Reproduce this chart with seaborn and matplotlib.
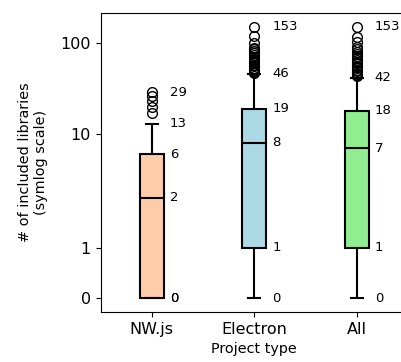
import numpy as np
import pandas as pd
import matplotlib
matplotlib.use("Agg")
import matplotlib.pyplot as plt
import seaborn as sns

categories = ["NW.js", "Electron", "All"]
colors = ["#FFCCAA", "#ADD8E6", "#90EE90"]

nwjs_values = [0, 0, 0, 0, 0, 0, 0, 0, 0, 0, 0,
               0, 1, 1, 1, 1, 1, 2, 2, 2,
               2,
               2, 3, 3, 3, 4, 4, 5, 5, 6,
               6,
               7, 8, 9, 11, 13,
               17, 20, 23, 26, 29]

electron_values = [0, 0, 0, 0, 0, 0, 0, 0, 0, 0, 0, 0,
                   1, 1, 1, 1, 1, 1, 1, 1, 1, 1, 1, 1, 1, 1, 1, 1, 1, 1, 1,
                   1,
                   1, 1, 2, 2, 2, 2, 2, 3, 3, 3, 3, 3, 4, 4, 4, 4, 5, 5, 5, 5,
                   6, 6, 6, 6, 7, 7, 7, 7, 7, 8,
                   8,
                   8, 9, 9, 10, 10, 11, 11, 12, 12, 13, 13, 14, 14, 15, 15,
                   16, 16, 17, 17, 17, 18, 18, 18, 18, 19, 19, 19, 19, 19, 19,
                   19,
                   20, 22, 24, 26, 28, 31, 34, 38, 42, 46,
                   47, 48, 49, 50, 52, 54, 56, 58, 60, 62, 65, 68, 71, 74,
                   78, 82, 86, 90, 102, 120, 153]

all_values = [0, 0, 0, 0, 0, 0, 0, 0, 0, 0, 0, 0,
              1, 1, 1, 1, 1, 1, 1, 1, 1, 1, 1, 1, 1, 1, 1, 1, 1, 1, 1,
              1,
              1, 1, 2, 2, 2, 2, 2, 3, 3, 3, 3, 3, 4, 4, 4, 4, 4, 5, 5, 5,
              5, 5, 6, 6, 6, 6, 6, 7, 7, 7,
              7,
              7, 8, 8, 9, 9, 10, 10, 11, 11, 12, 12, 13, 13, 14, 14, 15,
              15, 16, 16, 17, 17, 17, 17, 18, 18, 18, 18, 18, 18, 18,
              18,
              19, 21, 23, 25, 27, 30, 33, 36, 39, 42,
              44, 45, 46, 47, 49, 51, 53, 55, 57, 60, 63, 66, 69, 73,
              77, 81, 86, 92, 103, 118, 153]

series = [nwjs_values, electron_values, all_values]
df = pd.DataFrame({
    "type": np.concatenate([[c] * len(v) for c, v in zip(categories, series)]),
    "n": np.concatenate([np.asarray(v, dtype=float) for v in series]),
})

fig = plt.figure(figsize=(4.01, 3.62), dpi=100)
ax = fig.add_axes([100.5 / 401, 50 / 362, 307.5 / 401, 299 / 362])

sns.boxplot(data=df, x="type", y="n", hue="type", order=categories,
            hue_order=categories, palette=colors, legend=False, width=0.23,
            linecolor="black", linewidth=1.5, fliersize=7,
            flierprops=dict(marker="o", markerfacecolor="none",
                            markeredgecolor="black", markeredgewidth=1.0),
            medianprops=dict(color="black", linewidth=1.5),
            whiskerprops=dict(color="black", linewidth=1.5),
            capprops=dict(color="black", linewidth=1.5),
            boxprops=dict(edgecolor="black", linewidth=1.5),
            saturation=1, ax=ax)

ax.set_yscale("symlog", linthresh=2)
# y limits: data range with 5% margins in the symlog-transformed space
tr = ax.yaxis.get_transform()
lo, hi = tr.transform([df["n"].min(), df["n"].max()])
pad = 0.05 * (hi - lo)
ymin, ymax = tr.inverted().transform([lo - pad, hi + pad])
ax.set_ylim(ymin, ymax)

ax.set_yticks([0, 1, 10, 100])
ax.set_yticklabels(["0", "1", "10", "100"])
ax.yaxis.set_minor_locator(matplotlib.ticker.NullLocator())
ax.tick_params(axis="both", labelsize=11.5)
ax.set_xlim(-0.5, 2.5)

# annotations of box statistics
for i, vals in enumerate(series):
    v = np.sort(np.asarray(vals, dtype=float))
    q1, med, q3 = np.percentile(v, [25, 50, 75])
    iqr = q3 - q1
    whi = v[v <= q3 + 1.5 * iqr].max()
    stats = [v.min(), q1, med, q3, whi, v.max()]
    for s in stats:
        ax.text(i + 0.175, s, f"{int(round(s))}", ha="left", va="center",
                fontsize=9.5)

ax.set_xlabel("Project type", fontsize=10.4)
ax.set_ylabel("# of included libraries\n(symlog scale)", fontsize=10.4,
              labelpad=9)

fig.savefig("out.png", dpi=100)
